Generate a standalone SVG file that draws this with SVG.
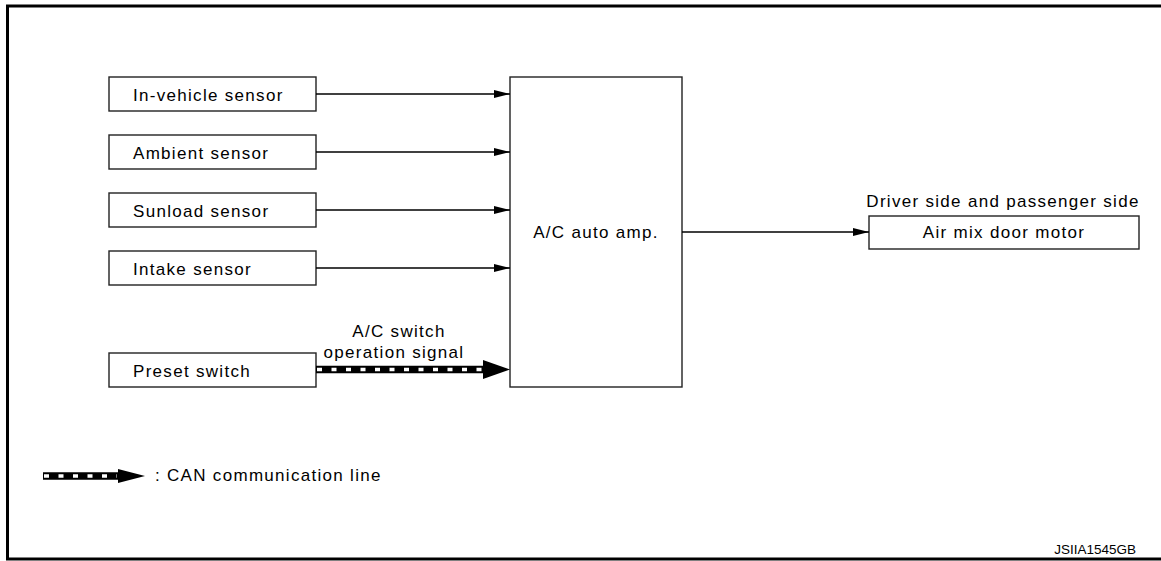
<svg xmlns="http://www.w3.org/2000/svg" width="1161" height="561" viewBox="0 0 1161 561">
<defs>
<marker id="arr" viewBox="0 0 16 8" refX="16" refY="4" markerWidth="16" markerHeight="8" markerUnits="userSpaceOnUse" orient="auto">
<path d="M0,0 L16,4 L0,8 Z" fill="#000"/>
</marker>
</defs>
<style>
.box{fill:#fff;stroke:#222;stroke-width:1.4}
.t{font-family:"Liberation Sans",Arial,sans-serif;font-size:17px;letter-spacing:1.3px;fill:#000}
.c{text-anchor:middle}
.ln{stroke:#000;stroke-width:1.5;fill:none}
.canb{stroke:#000;stroke-width:7.5;fill:none}
.canw{stroke:#fff;stroke-width:3.5;fill:none;stroke-dasharray:5 9.5}
</style>
<rect width="1161" height="561" fill="#fff"/>
<path d="M1161,6 H7.5 V559 H1161" fill="none" stroke="#000" stroke-width="3"/>

<g id="in-vehicle-sensor"><rect class="box" x="109" y="77" width="207" height="34"/><text class="t" x="133" y="100.5">In-vehicle sensor</text></g>
<g id="ambient-sensor"><rect class="box" x="109" y="135" width="207" height="34"/><text class="t" x="133" y="158.5">Ambient sensor</text></g>
<g id="sunload-sensor"><rect class="box" x="109" y="193" width="207" height="34"/><text class="t" x="133" y="216.5">Sunload sensor</text></g>
<g id="intake-sensor"><rect class="box" x="109" y="251" width="207" height="34"/><text class="t" x="133" y="274.5">Intake sensor</text></g>
<g id="preset-switch"><rect class="box" x="109" y="353" width="207" height="34"/><text class="t" x="133" y="376.5">Preset switch</text></g>
<g id="ac-auto-amp"><rect class="box" x="510" y="77" width="172" height="310"/><text class="t c" x="596" y="238">A/C auto amp.</text></g>
<g id="air-mix-door-motor"><text class="t c" x="1003" y="207">Driver side and passenger side</text><rect class="box" x="869" y="216" width="270" height="33"/><text class="t c" x="1004" y="238">Air mix door motor</text></g>

<g id="connectors">
<line class="ln" x1="316" y1="94" x2="510" y2="94" marker-end="url(#arr)"/>
<line class="ln" x1="316" y1="152" x2="510" y2="152" marker-end="url(#arr)"/>
<line class="ln" x1="316" y1="210" x2="510" y2="210" marker-end="url(#arr)"/>
<line class="ln" x1="316" y1="268" x2="510" y2="268" marker-end="url(#arr)"/>
<line class="ln" x1="682" y1="232" x2="869" y2="232" marker-end="url(#arr)"/>
<g id="can-line">
<line class="canb" x1="316" y1="369.5" x2="484" y2="369.5"/>
<line class="canw" x1="317" y1="369.5" x2="482" y2="369.5"/>
<path d="M483,360 L510,369.5 L483,379 Z" fill="#000"/>
<text class="t c" x="399" y="337">A/C switch</text>
<text class="t c" x="394" y="358">operation signal</text>
</g>
</g>

<g id="legend">
<line class="canb" x1="43" y1="476" x2="119" y2="476"/>
<line class="canw" x1="44" y1="476" x2="117" y2="476"/>
<path d="M118,469 L145,476 L118,483 Z" fill="#000"/>
<text class="t" x="155" y="481">: CAN communication line</text>
</g>
<text x="1136" y="554" text-anchor="end" font-family="Liberation Sans, Arial, sans-serif" font-size="13.5" fill="#000">JSIIA1545GB</text>
</svg>
